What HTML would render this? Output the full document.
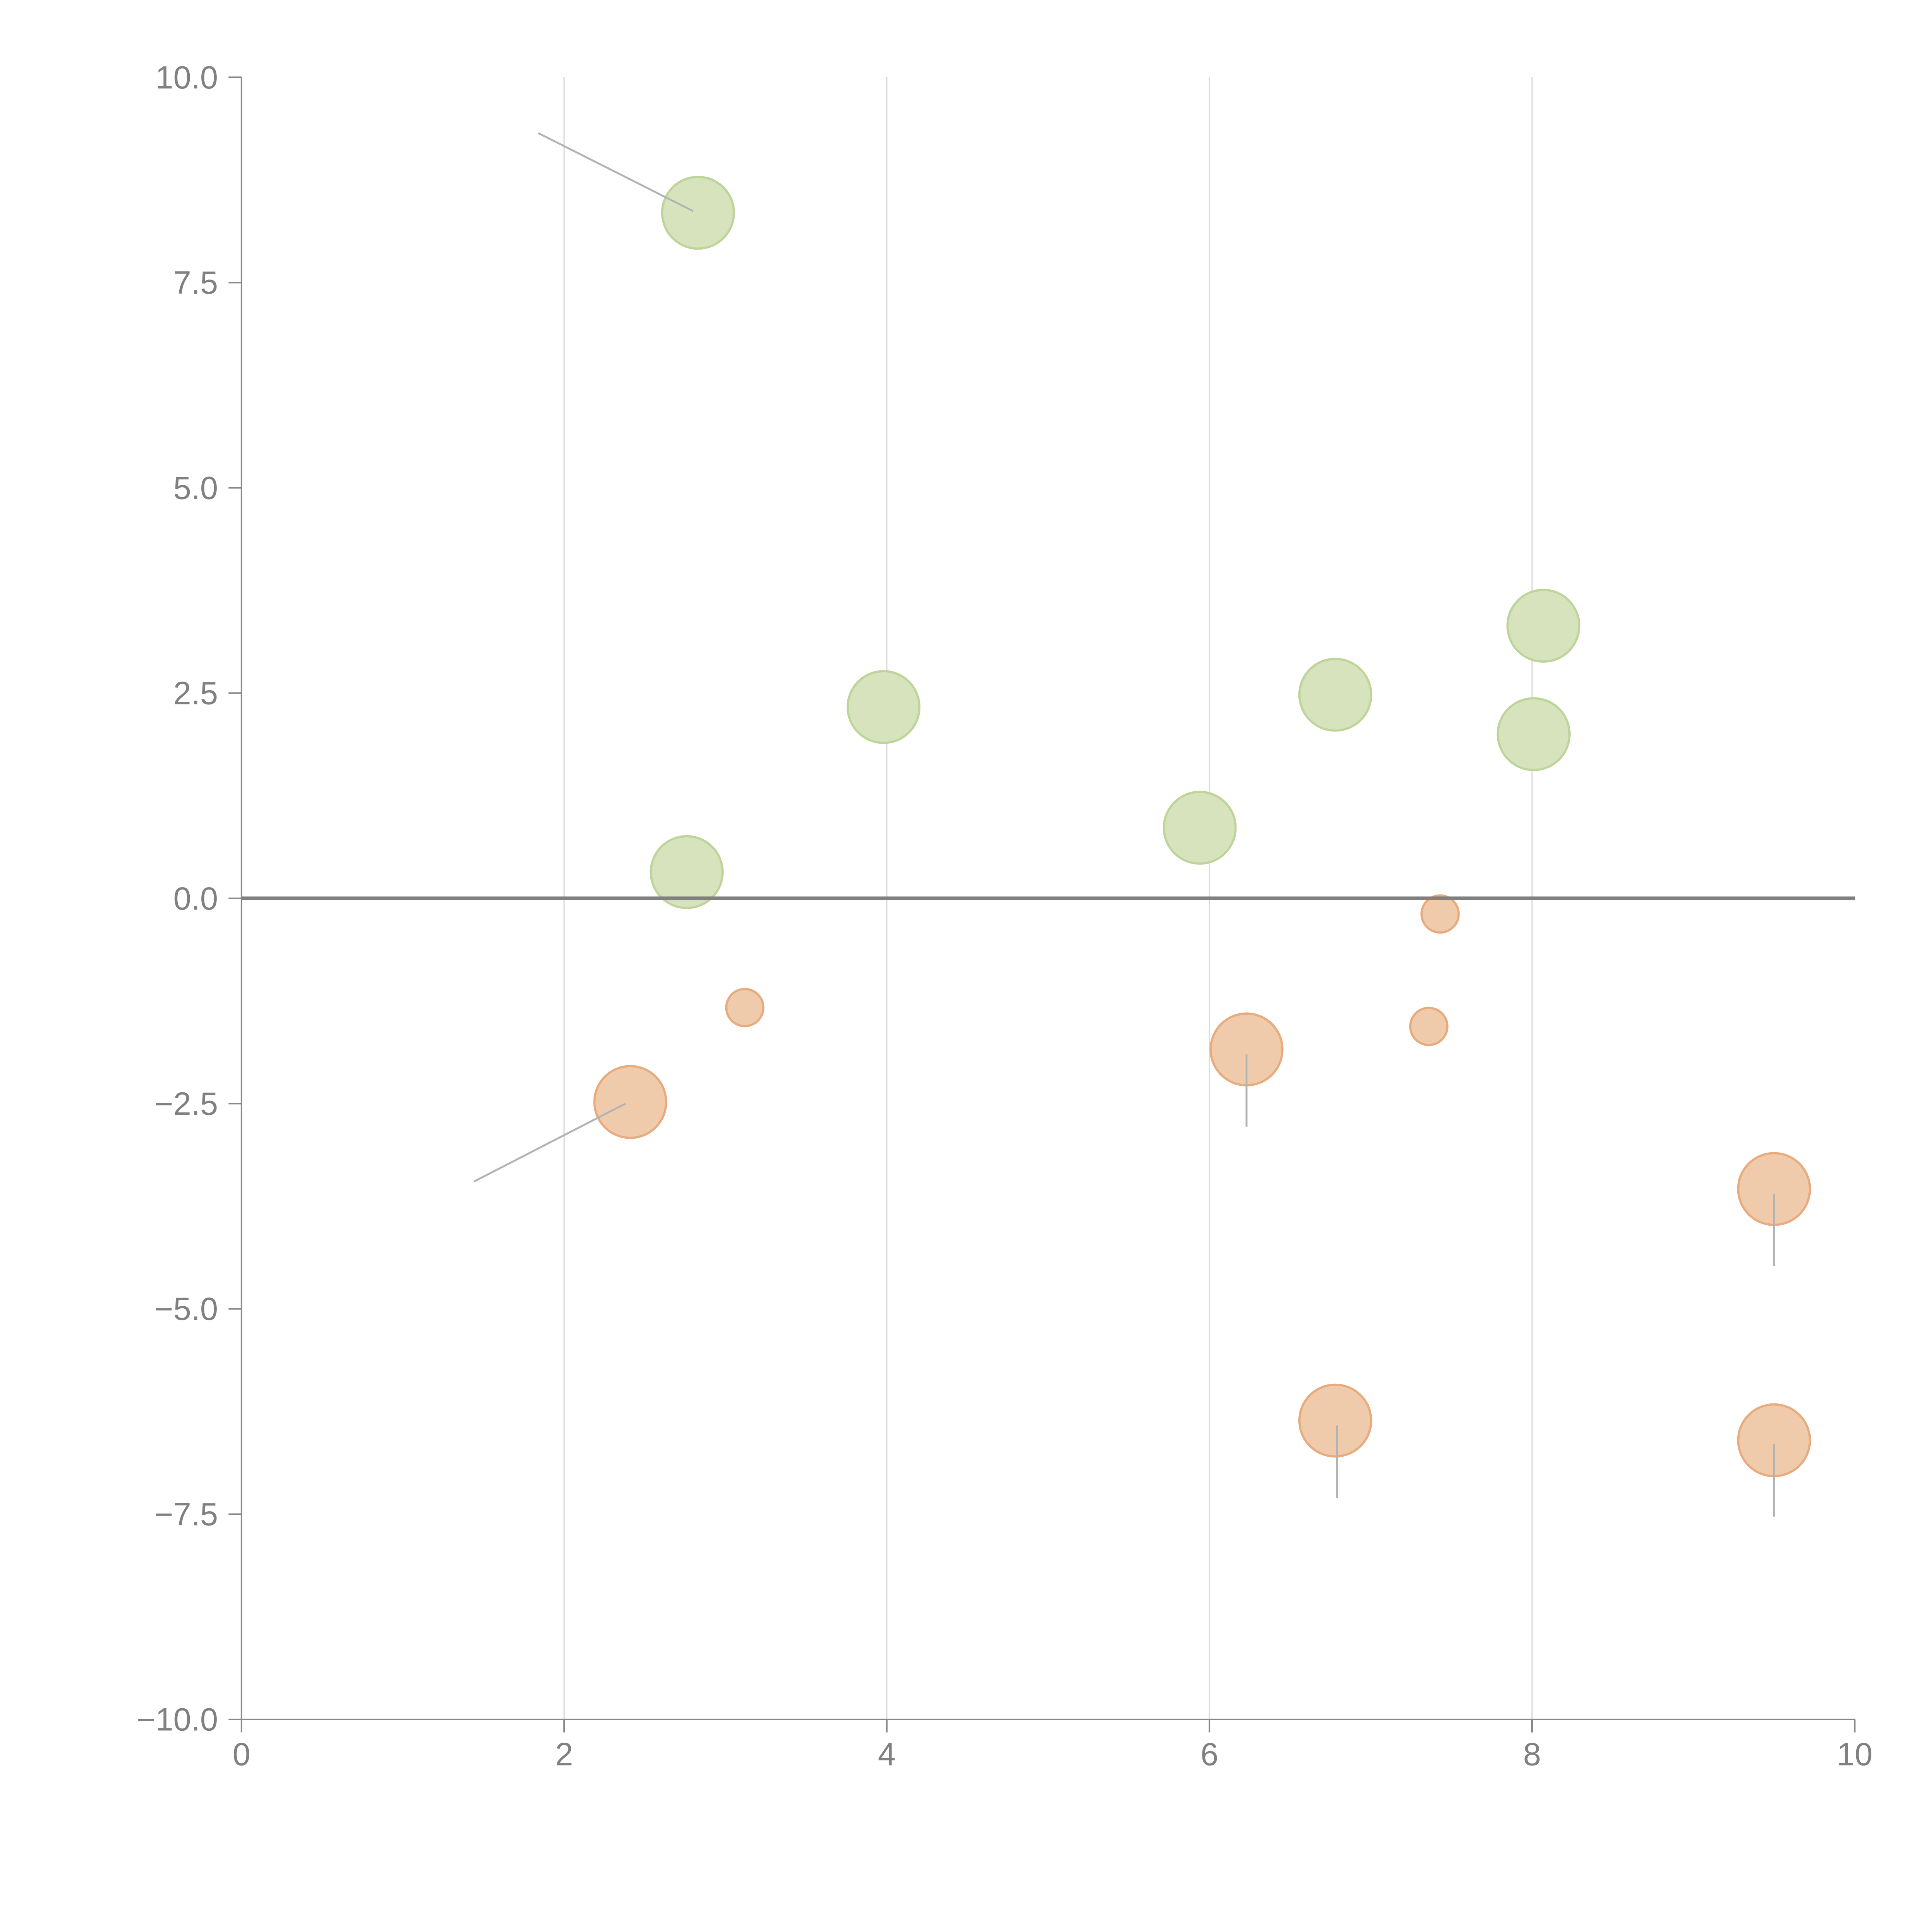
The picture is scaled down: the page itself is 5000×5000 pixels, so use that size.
<!DOCTYPE html>
<html><head><meta charset="utf-8"><style>
html,body{margin:0;padding:0;background:#fff;}
svg{display:block;}
text{font-family:"Liberation Sans",Arial,sans-serif;fill:#808080;}
</style></head><body>
<svg id="chart" width="5000" height="5000" viewBox="0 0 1562.5 1562.5" xmlns="http://www.w3.org/2000/svg">
<g id="grid"></g>
<g id="axes"></g>
<g id="leaders"></g>
<g id="bubbles"></g>
</svg>
<script>
const xTicks = [0, 2, 4, 6, 8, 10];
const xTickLabels = ["0", "2", "4", "6", "8", "10"];
const yTicks = [10, 7.5, 5, 2.5, 0, -2.5, -5, -7.5, -10];
const yTickLabels = ["10.0", "7.5", "5.0", "2.5", "0.0", "\u22122.5", "\u22125.0", "\u22127.5", "\u221210.0"];
const gridXs = [2, 4, 6, 8];

const greenX = [2.83, 3.98, 2.76, 5.94, 6.78, 8.07, 8.01];
const greenY = [8.35, 2.33, 0.32, 0.86, 2.48, 3.32, 2.0];
const greenSize = [2, 2, 2, 2, 2, 2, 2];

const orangeX = [3.12, 2.41, 6.23, 7.43, 7.36, 9.5, 6.78, 9.5];
const orangeY = [-1.33, -2.48, -1.84, -0.19, -1.56, -3.54, -6.36, -6.6];
const orangeSize = [1, 2, 2, 1, 1, 2, 2, 2];

const leaderX1 = [1.84, 1.44, 6.23, 9.5, 6.79, 9.5];
const leaderY1 = [9.32, -3.45, -1.9, -3.6, -6.42, -6.65];
const leaderX2 = [2.8, 2.38, 6.23, 9.5, 6.79, 9.5];
const leaderY2 = [8.37, -2.5, -2.78, -4.48, -7.3, -7.53];

const X0 = 195.3, X1 = 1500, YT = 62.5, YB = 1390.6;
function sx(v){ return X0 + (v - 0) / 10 * (X1 - X0); }
function sy(v){ return YB - (v + 10) / 20 * (YB - YT); }
function rad(s){ return s === 2 ? 29 : 15; }
const NS = "http://www.w3.org/2000/svg";
function mk(tag, attrs, parent){
  const e = document.createElementNS(NS, tag);
  for (const k in attrs) e.setAttribute(k, attrs[k]);
  parent.appendChild(e);
  return e;
}
const grid = document.getElementById('grid');
const axes = document.getElementById('axes');
const leaders = document.getElementById('leaders');
const bubbles = document.getElementById('bubbles');

gridXs.forEach(v => {
  const l = mk('line', {x1: sx(v), x2: sx(v), y1: YT, y2: YB, stroke: '#d9d9d9', 'stroke-width': 1}, grid);
  
  
});

// axis lines
let a = mk('line', {x1: X0, x2: X0, y1: YT, y2: YB, stroke: '#888', 'stroke-width': 1.3}, axes);


a = mk('line', {x1: X0, x2: X1, y1: YB, y2: YB, stroke: '#888', 'stroke-width': 1.3}, axes);



xTicks.forEach((v, i) => {
  const t = mk('line', {x1: sx(v), x2: sx(v), y1: YB, y2: YB + 10.5, stroke: '#888', 'stroke-width': 1.3}, axes);
  
  
  const tx = mk('text', {x: sx(v), y: YB + 37, 'text-anchor': 'middle', 'font-size': 26}, axes);
  tx.textContent = xTickLabels[i];
  
  
});
yTicks.forEach((v, i) => {
  const t = mk('line', {x1: X0 - 10.5, x2: X0, y1: sy(v), y2: sy(v), stroke: '#888', 'stroke-width': 1.3}, axes);
  
  
  const tx = mk('text', {x: X0 - 19, y: sy(v) + 9, 'text-anchor': 'end', 'font-size': 26}, axes);
  tx.textContent = yTickLabels[i];
  
  
});

leaderX1.forEach((v, i) => {
  const l = mk('line', {x1: sx(v), y1: sy(leaderY1[i]), x2: sx(leaderX2[i]), y2: sy(leaderY2[i]), stroke: '#b3b3b3', 'stroke-width': 1.5}, leaders);
  
  
});

greenX.forEach((v, i) => {
  const c = mk('circle', {cx: sx(v), cy: sy(greenY[i]), r: rad(greenSize[i]), fill: '#d6e3bd', stroke: '#bdd59a', 'stroke-width': 1.8}, bubbles);
  
  
});
orangeX.forEach((v, i) => {
  const c = mk('circle', {cx: sx(v), cy: sy(orangeY[i]), r: rad(orangeSize[i]), fill: '#f0cbab', stroke: '#e8ab7e', 'stroke-width': 1.8}, bubbles);
  
  
});

// zero line drawn on top
const z = mk('line', {x1: X0, x2: X1, y1: sy(0), y2: sy(0), stroke: '#808080', 'stroke-width': 3}, bubbles);


// repeat leaders on top of bubbles
leaderX1.forEach((v, i) => {
  const l = mk('line', {x1: sx(v), y1: sy(leaderY1[i]), x2: sx(leaderX2[i]), y2: sy(leaderY2[i]), stroke: '#b3b3b3', 'stroke-width': 1.5}, bubbles);
  
  
});
</script>
</body></html>
